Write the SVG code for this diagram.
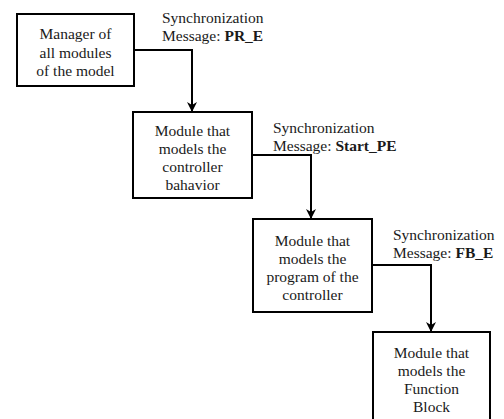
<svg xmlns="http://www.w3.org/2000/svg" width="504" height="419" viewBox="0 0 504 419">
<style>
.box{fill:#fff;stroke:#000;stroke-width:2}
text{font-family:'Liberation Serif','Times New Roman',serif;font-size:15.5px;fill:#1a1a1a}
.c{text-anchor:middle}
.b{font-weight:bold}
.conn{fill:none;stroke:#000;stroke-width:2}
</style>
<defs>
<marker id="ah" viewBox="0 0 10 10" refX="9" refY="5" markerWidth="10" markerHeight="10" markerUnits="userSpaceOnUse" orient="auto">
<path d="M0,0 L10,5 L0,10 L3,5 Z" fill="#000"/>
</marker>
</defs>
<rect width="504" height="419" fill="#fff"/>
<g id="connectors">
<path class="conn" d="M134,50 H192 V111" marker-end="url(#ah)"/>
<path class="conn" d="M252,155 H311 V218" marker-end="url(#ah)"/>
<path class="conn" d="M372,265 H431 V331" marker-end="url(#ah)"/>
</g>
<g id="n1">
<rect class="box" x="17" y="14" width="117" height="72"/>
<text class="c" x="75.5" y="39">Manager of</text>
<text class="c" x="75.5" y="57.5">all modules</text>
<text class="c" x="75.5" y="76">of the model</text>
</g>
<g id="n2">
<rect class="box" x="133" y="112" width="119" height="86"/>
<text class="c" x="192.5" y="136">Module that</text>
<text class="c" x="192.5" y="154">models the</text>
<text class="c" x="192.5" y="172">controller</text>
<text class="c" x="192.5" y="190">bahavior</text>
</g>
<g id="n3">
<rect class="box" x="253" y="219" width="119" height="93"/>
<text class="c" x="312.5" y="246">Module that</text>
<text class="c" x="312.5" y="264">models the</text>
<text class="c" x="312.5" y="282">program of the</text>
<text class="c" x="312.5" y="300">controller</text>
</g>
<g id="n4">
<rect class="box" x="373" y="332" width="117" height="95"/>
<text class="c" x="431.5" y="358">Module that</text>
<text class="c" x="431.5" y="376">models the</text>
<text class="c" x="431.5" y="394">Function</text>
<text class="c" x="431.5" y="412">Block</text>
</g>
<g id="labels">
<text x="162" y="23">Synchronization</text>
<text x="162" y="41">Message: <tspan class="b">PR_E</tspan></text>
<text x="273" y="133">Synchronization</text>
<text x="273" y="151">Message: <tspan class="b">Start_PE</tspan></text>
<text x="393" y="240">Synchronization</text>
<text x="393" y="258">Message: <tspan class="b">FB_E</tspan></text>
</g>
</svg>
